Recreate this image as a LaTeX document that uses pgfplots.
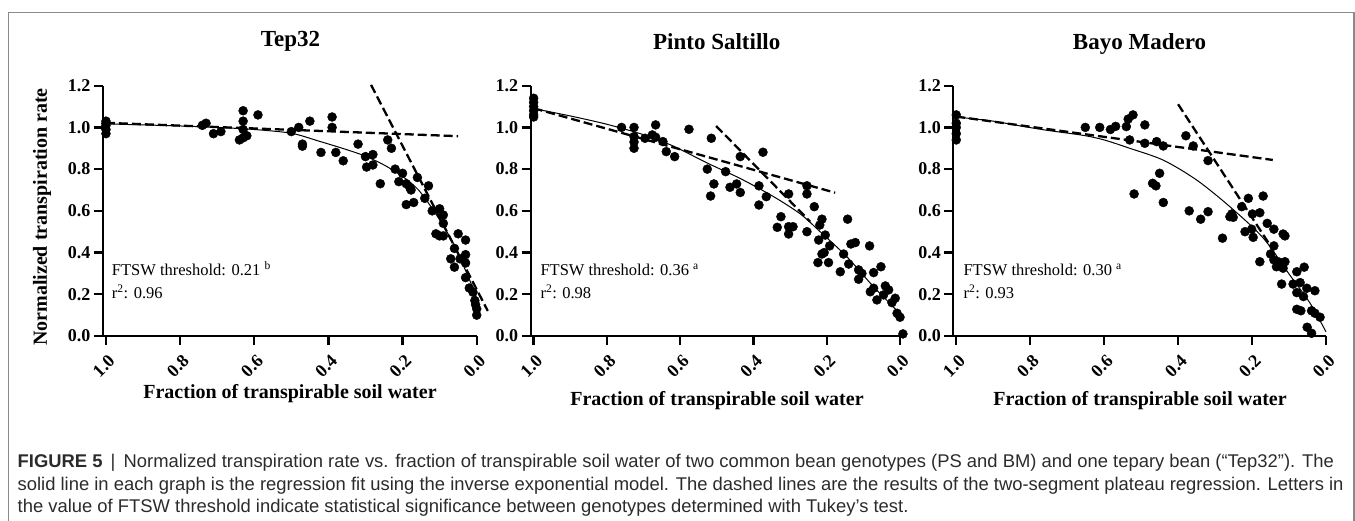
\documentclass[border=0pt]{standalone}
\usepackage{pgfplots}
\pgfplotsset{compat=1.18}
\usepackage{fontspec}
\setmainfont{Liberation Serif}
\newfontfamily\capfont{Liberation Sans}
\definecolor{framegray}{HTML}{8A8A8A}
\definecolor{captext}{HTML}{2B2B2B}

\pgfplotsset{
  panel/.style={
    scale only axis, height=250.3pt,
    xmin=0, xmax=1.008, ymin=0, ymax=1.2,
    x dir=reverse,
    axis x line*=bottom, axis y line*=left,
    axis line style={line width=2.3pt},
    every tick/.style={black, line width=2.3pt},
    tick align=outside, major tick length=9pt,
    xtick={0,0.2,0.4,0.6,0.8,1.0},
    xticklabels={0.0,0.2,0.4,0.6,0.8,1.0},
    ytick={0,0.2,0.4,0.6,0.8,1.0,1.2},
    yticklabels={0.0,0.2,0.4,0.6,0.8,1.0,1.2},
    tick label style={font=\fontsize{18}{18}\selectfont\bfseries},
    xticklabel style={rotate=45, anchor=north east, inner sep=2pt, xshift=-3pt, yshift=-5pt},
    clip=false,
    anchor=south west,
  },
  pts/.style={only marks, mark=*, mark size=4.5pt, black},
  dsh/.style={black, line width=2.3pt, dash pattern=on 9pt off 4pt},
  fit/.style={black, line width=1pt, smooth},
}

\begin{document}
\begin{tikzpicture}
\useasboundingbox (0pt,0pt) rectangle (1355pt,-521pt);
\draw[framegray, line width=1.3pt] (8.3pt,-521pt) -- (8.3pt,-12.7pt) -- (1354pt,-12.7pt) -- (1354pt,-521pt);

% ---------------- Panel 1: Tep32 ----------------
\begin{axis}[panel, width=373.7pt, at={(103pt,-336pt)}]
\addplot[dsh] coordinates {(1.0,1.022) (0.05,0.958)};
\addplot[dsh] coordinates {(0.285,1.204) (-0.03,0.12)};
\addplot[fit] coordinates {(1.0,1.017) (0.9,1.012) (0.8,1.007) (0.7,1.0) (0.6,0.99) (0.5,0.972) (0.427,0.935) (0.35,0.893) (0.3,0.862) (0.25,0.82) (0.2,0.765) (0.157,0.70) (0.112,0.59) (0.068,0.46) (0.023,0.285) (0.0,0.18)};
\addplot[pts] table {
f v
1.0 1.03
1.0 1.01
1.0 0.99
1.0 0.97
1.0 1.02
0.74 1.01
0.73 1.02
0.71 0.97
0.69 0.98
0.63 1.08
0.63 1.03
0.63 0.99
0.63 0.95
0.64 0.94
0.62 0.96
0.59 1.06
0.50 0.98
0.48 1.00
0.45 1.03
0.39 1.05
0.39 1.00
0.47 0.92
0.47 0.91
0.42 0.88
0.38 0.88
0.36 0.84
0.32 0.92
0.30 0.86
0.28 0.87
0.297 0.81
0.28 0.82
0.26 0.73
0.24 0.94
0.23 0.90
0.22 0.80
0.21 0.74
0.20 0.78
0.19 0.73
0.18 0.71
0.177 0.70
0.16 0.76
0.19 0.63
0.17 0.64
0.14 0.66
0.13 0.72
0.12 0.60
0.10 0.61
0.09 0.58
0.09 0.54
0.11 0.49
0.10 0.48
0.09 0.48
0.05 0.49
0.03 0.46
0.06 0.42
0.07 0.37
0.06 0.33
0.045 0.37
0.03 0.39
0.03 0.35
0.03 0.28
0.02 0.23
0.01 0.21
0.005 0.17
0.0 0.13
0.0 0.10
0.003 0.15
};
\end{axis}

% ---------------- Panel 2: Pinto Saltillo ----------------
\begin{axis}[panel, width=369.3pt, at={(530.7pt,-336pt)}]
\addplot[dsh] coordinates {(1.0,1.092) (0.177,0.687)};
\addplot[dsh] coordinates {(0.502,1.007) (0.245,0.548)};
\addplot[fit] coordinates {(1.0,1.09) (0.9,1.055) (0.8,1.015) (0.7,0.965) (0.618,0.91) (0.527,0.83) (0.436,0.755) (0.345,0.668) (0.272,0.585) (0.218,0.50) (0.145,0.38) (0.072,0.236) (-0.01,0.09)};
\addplot[pts] table {
f v
1.0 1.14
1.0 1.12
1.0 1.10
1.0 1.08
1.0 1.06
1.0 1.05
0.76 1.00
0.726 1.00
0.726 0.956
0.726 0.93
0.726 0.90
0.696 0.948
0.676 0.964
0.667 0.953
0.667 1.012
0.647 0.932
0.638 0.884
0.615 0.86
0.576 0.991
0.515 0.948
0.526 0.80
0.508 0.729
0.517 0.671
0.436 0.86
0.374 0.881
0.476 0.788
0.464 0.713
0.446 0.729
0.436 0.688
0.385 0.72
0.365 0.668
0.385 0.628
0.304 0.681
0.254 0.72
0.254 0.681
0.234 0.62
0.325 0.572
0.335 0.521
0.304 0.524
0.292 0.524
0.304 0.489
0.254 0.50
0.213 0.56
0.219 0.532
0.204 0.484
0.222 0.46
0.192 0.432
0.213 0.393
0.207 0.40
0.224 0.352
0.195 0.352
0.143 0.56
0.154 0.393
0.134 0.441
0.122 0.448
0.083 0.432
0.163 0.308
0.14 0.345
0.113 0.317
0.104 0.30
0.113 0.272
0.072 0.304
0.052 0.332
0.081 0.212
0.063 0.173
0.072 0.229
0.04 0.24
0.031 0.221
0.045 0.197
0.013 0.181
0.022 0.16
0.008 0.109
0.0 0.09
-0.008 0.01
};
\end{axis}

% ---------------- Panel 3: Bayo Madero ----------------
\begin{axis}[panel, width=372.7pt, at={(953.3pt,-336pt)}]
\addplot[dsh] coordinates {(1.0,1.052) (0.144,0.844)};
\addplot[dsh] coordinates {(0.40,1.111) (0.156,0.448)};
\addplot[fit] coordinates {(1.0,1.05) (0.9,1.03) (0.82,1.005) (0.75,0.985) (0.657,0.962) (0.6,0.94) (0.531,0.90) (0.44,0.843) (0.35,0.748) (0.26,0.62) (0.17,0.47) (0.097,0.29) (0.043,0.157) (0.0,0.02)};
\addplot[pts] table {
f v
1.0 1.06
1.0 1.02
1.0 1.00
1.0 0.97
1.0 0.94
0.651 1.00
0.612 1.00
0.583 0.99
0.569 1.005
0.54 1.004
0.535 1.04
0.522 1.06
0.531 0.94
0.519 0.681
0.49 1.012
0.49 0.924
0.458 0.932
0.44 0.911
0.45 0.78
0.469 0.732
0.46 0.72
0.44 0.64
0.379 0.96
0.359 0.911
0.319 0.841
0.37 0.60
0.339 0.56
0.319 0.596
0.28 0.469
0.26 0.572
0.255 0.585
0.251 0.569
0.228 0.62
0.21 0.66
0.17 0.671
0.219 0.50
0.201 0.512
0.197 0.473
0.199 0.585
0.179 0.591
0.159 0.54
0.141 0.512
0.116 0.489
0.111 0.48
0.179 0.356
0.141 0.432
0.15 0.393
0.141 0.365
0.129 0.356
0.111 0.356
0.134 0.332
0.116 0.325
0.12 0.249
0.079 0.308
0.059 0.33
0.089 0.249
0.07 0.256
0.052 0.229
0.03 0.217
0.079 0.208
0.061 0.189
0.079 0.128
0.068 0.121
0.039 0.121
0.03 0.109
0.016 0.09
0.051 0.042
0.039 0.013
};
\end{axis}

% ---------------- Titles and labels ----------------
\begin{scope}[every node/.style={inner sep=0pt}]
\node[anchor=base, font=\fontsize{23}{23}\selectfont\bfseries] at (290.5pt,-46.7pt) {Tep32};
\node[anchor=base, font=\fontsize{23}{23}\selectfont\bfseries] at (716.7pt,-49.3pt) {Pinto Saltillo};
\node[anchor=base, font=\fontsize{23}{23}\selectfont\bfseries] at (1139.5pt,-49.3pt) {Bayo Madero};

\node[anchor=base, font=\fontsize{20}{20}\selectfont\bfseries] at (290pt,-398.3pt) {Fraction of transpirable soil water};
\node[anchor=base, font=\fontsize{20}{20}\selectfont\bfseries] at (717pt,-405pt) {Fraction of transpirable soil water};
\node[anchor=base, font=\fontsize{20}{20}\selectfont\bfseries] at (1140pt,-405pt) {Fraction of transpirable soil water};

\node[rotate=90, font=\fontsize{20}{20}\selectfont\bfseries] at (42pt,-217pt) {Normalized transpiration rate};

\node[anchor=base west, font=\fontsize{16.5}{16.5}\selectfont] at (111.7pt,-276pt) {FTSW threshold: 0.21 \textsuperscript{b}};
\node[anchor=base west, font=\fontsize{16.5}{16.5}\selectfont] at (111.7pt,-298.5pt) {r\textsuperscript{2}: 0.96};
\node[anchor=base west, font=\fontsize{16.5}{16.5}\selectfont] at (540.3pt,-276pt) {FTSW threshold: 0.36 \textsuperscript{a}};
\node[anchor=base west, font=\fontsize{16.5}{16.5}\selectfont] at (540.3pt,-298.5pt) {r\textsuperscript{2}: 0.98};
\node[anchor=base west, font=\fontsize{16.5}{16.5}\selectfont] at (963.3pt,-276pt) {FTSW threshold: 0.30 \textsuperscript{a}};
\node[anchor=base west, font=\fontsize{16.5}{16.5}\selectfont] at (963.3pt,-298.5pt) {r\textsuperscript{2}: 0.93};

% caption
\node[anchor=base west, text=captext, font=\capfont\fontsize{18.4}{18.4}\selectfont] at (17.5pt,-467.3pt) {\textbf{FIGURE 5} {\,|\,} Normalized transpiration rate vs. fraction of transpirable soil water of two common bean genotypes (PS and BM) and one tepary bean (“Tep32”). The};
\node[anchor=base west, text=captext, font=\capfont\fontsize{18.4}{18.4}\selectfont] at (17.5pt,-490pt) {solid line in each graph is the regression fit using the inverse exponential model. The dashed lines are the results of the two-segment plateau regression. Letters in};
\node[anchor=base west, text=captext, font=\capfont\fontsize{18.4}{18.4}\selectfont] at (17.5pt,-512.7pt) {the value of FTSW threshold indicate statistical significance between genotypes determined with Tukey’s test.};
\end{scope}
\end{tikzpicture}
\end{document}
